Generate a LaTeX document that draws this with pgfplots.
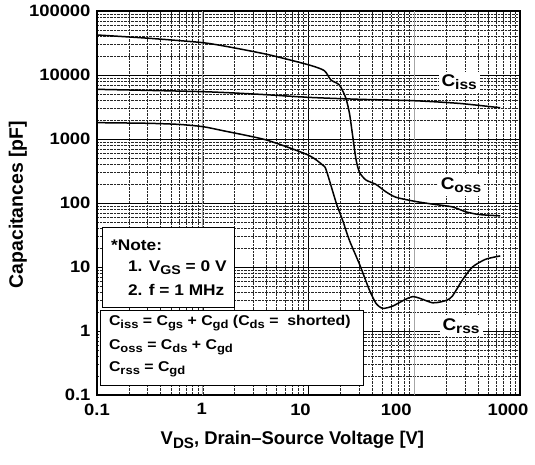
\documentclass[border=0pt]{standalone}
\usepackage{pgfplots}
\pgfplotsset{compat=1.18}
\usepackage{fontspec}
\setmainfont{Liberation Sans}
\newfontfamily\widefont[FakeStretch=1.12]{Liberation Sans}
\newcommand\sub[1]{\raisebox{-0.35ex}{\scalebox{0.82}{#1}}}
\begin{document}
\begin{tikzpicture}
\begin{axis}[
  name=ax,
  scale only axis, width=423bp, height=384bp,
  xmode=log, ymode=log,
  xmin=0.1, xmax=1000, ymin=0.1, ymax=100000,
  xtick={0.1,1,10,100,1000},
  xticklabels={0.1,\kern-2bp 1,\kern-16bp 10,\kern-36bp 100,\kern-24bp 1000},
  ytick={0.1,1,10,100,1000,10000,100000},
  yticklabels={0.1,1,10,100,1000,10000,100000},
  extra x ticks={1,100}, extra x tick labels={},
  extra x tick style={major grid style={gray!70, line width=1.3bp}},
  grid=both,
  major grid style={black, line width=0.6bp},
  minor grid style={black!85, line width=0.4bp, densely dotted},
  major tick length=0pt, minor tick length=0pt,
  axis line style={line width=1.8bp},
  tick label style={font=\fontsize{16.5}{17}\selectfont\widefont\bfseries},
  /pgf/number format/assume math mode=true,
  xticklabel style={yshift=-5bp},
  yticklabel style={xshift=-3bp},
  xlabel={V\sub{DS}, Drain\textendash Source Voltage [V]},
  ylabel={Capacitances [pF]},
  xlabel style={font=\fontsize{18.5}{19}\selectfont\bfseries, at={(axis description cs:0.462,-0.117)}, anchor=center},
  ylabel style={font=\fontsize{19.5}{20}\selectfont\bfseries, at={(axis description cs:-0.187,0.496)}, anchor=center},
  curve/.style={black, line width=1.5bp, smooth, tension=0.4, mark=none},
]
% Coss
\addplot[curve] coordinates {(0.1,42200) (0.316,37400) (1,32000) (1.92,26800) (4.28,20600)
  (10.2,14300) (14.1,11700) (16.3,8350) (19.6,6980) (22.5,4400) (24.4,2520)
  (26.2,1100) (28.2,470) (30.4,300) (34.9,229) (43.5,195) (53.8,150) (67,123)
  (98.6,107) (149,96) (229,87) (306,73) (412,66) (650,63)};
% Ciss
\addplot[curve] coordinates {(0.1,5970) (1,5490) (3.45,4990) (10.2,4470) (30.4,4170)
  (98.6,3970) (266,3600) (650,3080)};
% Crss
\addplot[curve] coordinates {(0.1,1800) (0.3,1760) (0.6,1690) (1,1560) (1.55,1350) (4,965)
  (9.9,563) (13.6,392) (14.7,328) (18.3,100) (21,54) (24.4,26) (30.4,11) (37.6,4.4)
  (43.5,2.7) (50.3,2.26) (62.5,2.45) (96.5,3.44) (149,2.76) (200,3.0) (229,3.5)
  (286,6.3) (355,10) (472,13.2) (650,14.9)};

\begin{scope}[every node/.style={fill=white, inner sep=3bp, font=\fontsize{17}{17}\selectfont\widefont\bfseries}]
\node at (axis cs:266,7760) {C\sub{iss}};
\node at (axis cs:277,191) {C\sub{oss}};
\node at (axis cs:277,1.2) {C\sub{rss}};
\end{scope}

\draw[line width=1bp, fill=white] (rel axis cs:0.014,0.229) rectangle (rel axis cs:0.324,0.4375);
\draw[line width=1bp, fill=white] (rel axis cs:0.008,0.026) rectangle (rel axis cs:0.629,0.221);
\begin{scope}[every node/.style={anchor=west, inner sep=0pt, font=\fontsize{15.5}{16}\selectfont\widefont\bfseries}]
\node at (rel axis cs:0.033,0.391) {*Note:};
\node at (rel axis cs:0.073,0.331) {1. V\sub{GS} = 0 V};
\node at (rel axis cs:0.073,0.273) {2. f = 1 MHz};
\end{scope}
\begin{scope}[every node/.style={anchor=west, inner sep=0pt, font=\fontsize{14.2}{15}\selectfont\widefont\bfseries}]
\node at (rel axis cs:0.028,0.1875) {C\sub{iss} = C\sub{gs} + C\sub{gd} (C\sub{ds} =\ \ shorted)};
\node at (rel axis cs:0.028,0.125) {C\sub{oss} = C\sub{ds} + C\sub{gd}};
\node at (rel axis cs:0.028,0.0677) {C\sub{rss} = C\sub{gd}};
\end{scope}
\end{axis}
\pgfresetboundingbox
\path[use as bounding box] ([xshift=-97bp,yshift=-69bp]ax.south west) rectangle ([xshift=15bp,yshift=11bp]ax.north east);
\end{tikzpicture}
\end{document}
